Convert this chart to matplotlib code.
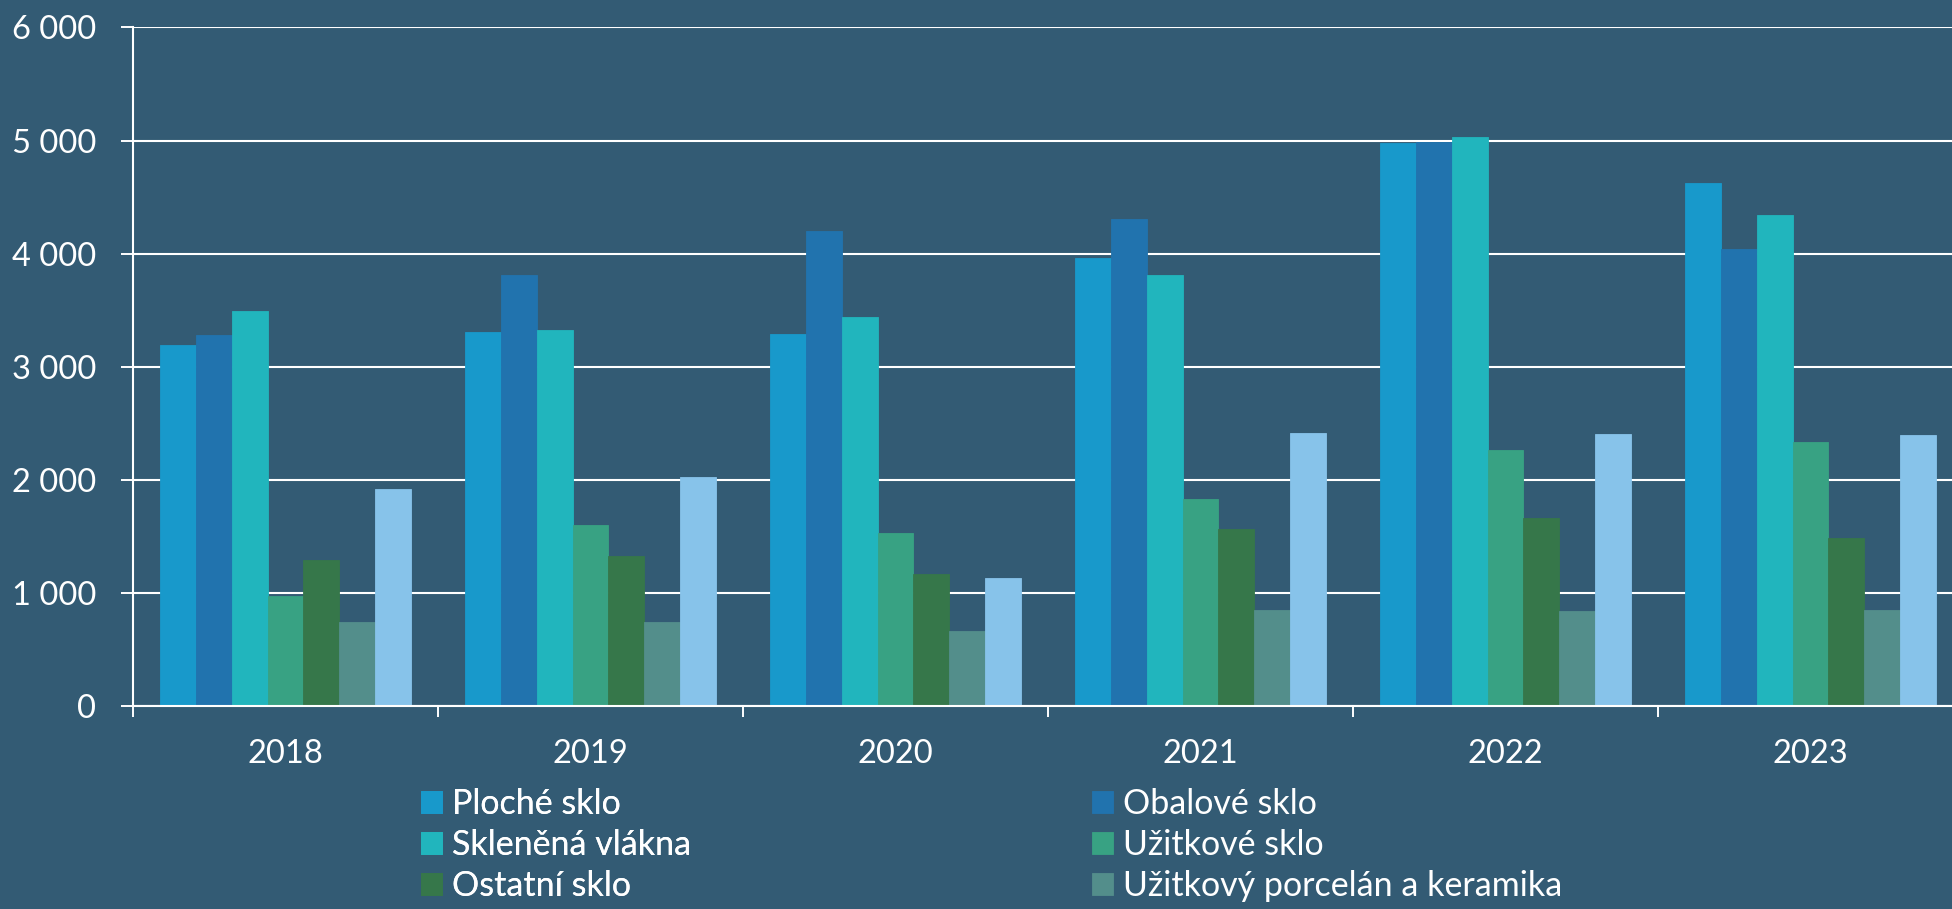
import matplotlib
matplotlib.use("Agg")
import matplotlib.pyplot as plt
import numpy as np
from matplotlib.ticker import FuncFormatter, FixedLocator

years = ["2018", "2019", "2020", "2021", "2022", "2023"]
series_names = ["Ploché sklo", "Obalové sklo", "Skleněná vlákna", "Užitkové sklo",
                "Ostatní sklo", "Užitkový porcelán a keramika", None]
ploche = [3195, 3305, 3291, 3965, 4979, 4621]
obalove = [3277, 3814, 4204, 4310, 4986, 4039]
sklenena = [3494, 3325, 3436, 3811, 5028, 4337]
uzitkove = [975, 1596, 1527, 1829, 2265, 2332]
ostatni = [1294, 1325, 1170, 1563, 1658, 1487]
porcelan = [740, 743, 665, 845, 840, 845]
dalsi = [1917, 2024, 1134, 2414, 2409, 2395]
all_series = [ploche, obalove, sklenena, uzitkove, ostatni, porcelan, dalsi]
colors = ["#1899CB", "#2173AE", "#21B5BD", "#38A283", "#36774A", "#538E8B", "#87C3EA"]

BG = "#335B74"
FONT = ["Lato", "DejaVu Sans"]
plt.rcParams["font.family"] = FONT
FS = 23
FS_LEG = 24.5

fig = plt.figure(figsize=(19.52, 9.09), dpi=100, facecolor=BG)
W, H = 1952, 909
left_px, right_px, top_px, bot_px = 133, 133 + 6 * 305, 27.4, 706
ax = fig.add_axes([left_px / W, 1 - bot_px / H, (right_px - left_px) / W, (bot_px - top_px) / H])
ax.set_facecolor(BG)

x = np.arange(len(years))
bw = 0.1175
n = len(all_series)
bars = []
for i, (vals, c) in enumerate(zip(all_series, colors)):
    b = ax.bar(x + (i - (n - 1) / 2) * bw, vals, width=bw, color=c, zorder=3,
               edgecolor=c, linewidth=0.6)
    bars.append(b)

ax.set_xlim(-0.5, len(years) - 0.5)
ax.set_ylim(0, 6000)
ax.set_yticks(np.arange(0, 6001, 1000))
ax.yaxis.set_major_formatter(FuncFormatter(lambda v, p: f"{int(v):,}".replace(",", " ")))
ax.yaxis.grid(True, color="white", linewidth=1.5, zorder=1)
ax.set_axisbelow(True)

ax.xaxis.set_major_locator(FixedLocator(np.arange(-0.5, len(years) + 0.5, 1.0)))
ax.xaxis.set_major_formatter(FuncFormatter(lambda v, p: ""))
ax.set_xticks(x, years, minor=True)
ax.tick_params(axis="x", which="major", length=8, width=1.4, color="white", direction="out")
ax.tick_params(axis="x", which="minor", length=0, pad=24, labelsize=FS + 0.5, labelcolor="white")
ax.tick_params(axis="y", which="major", length=8.6, width=1.4, color="white", pad=18,
               labelsize=FS + 0.5, labelcolor="white")

for s in ["top", "right"]:
    ax.spines[s].set_visible(False)
for s in ["left", "bottom"]:
    ax.spines[s].set_color("white")
    ax.spines[s].set_linewidth(1.5)
    ax.spines[s].set_zorder(4)

fs_px = FS_LEG * 100 / 72
hl = 21 / fs_px
common = dict(frameon=False, fontsize=FS_LEG, labelcolor="white", handlelength=hl,
              handleheight=hl, handletextpad=0.3, labelspacing=0.27, borderpad=0,
              borderaxespad=0, loc="upper left")
leg1 = fig.legend([bars[0], bars[2], bars[4]],
                  [series_names[0], series_names[2], series_names[4]],
                  bbox_to_anchor=(421 / W, 1 - 788 / H), **common)
fig.add_artist(leg1)
leg2 = fig.legend([bars[1], bars[3], bars[5]],
                  [series_names[1], series_names[3], series_names[5]],
                  bbox_to_anchor=(1092 / W, 1 - 788 / H), **common)

fig.savefig("out.png", dpi=100, facecolor=BG)
